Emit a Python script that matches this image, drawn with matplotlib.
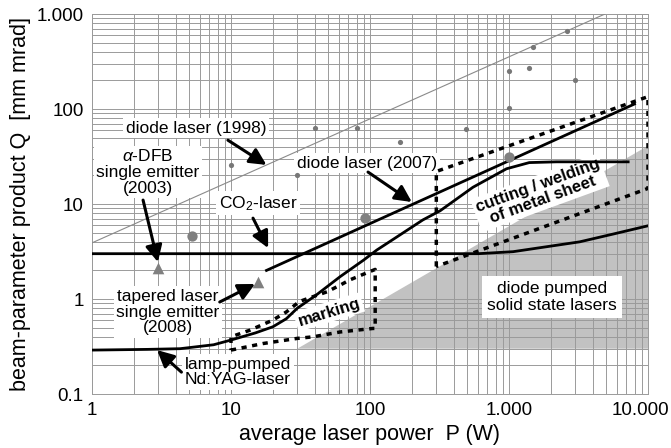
import matplotlib
matplotlib.use("Agg")
import matplotlib.pyplot as plt
import matplotlib.transforms as mtrans
import numpy as np

plt.rcParams['font.family'] = ['Liberation Sans', 'DejaVu Sans']
plt.rcParams['mathtext.fontset'] = 'custom'
plt.rcParams['mathtext.rm'] = 'Liberation Sans'
plt.rcParams['mathtext.it'] = 'Liberation Sans:italic'

# --- data (P in W, Q in mm mrad) ---
diode1998_P = [1, 4900]
diode1998_Q = [3.9, 1000]

diode2007_P = [18, 8000]
diode2007_Q = [2.0, 113]

co2_P = [1, 600, 1070, 1860, 3230, 5620, 10000]
co2_Q = [3.0, 3.0, 3.15, 3.55, 4.0, 4.83, 5.9]

lamp_P = [1, 2.5, 4.3, 7.5, 10, 15, 20, 25, 30, 41, 61, 90, 112, 156, 240,
          320, 550, 960, 1400, 2200, 7200]
lamp_Q = [0.29, 0.295, 0.30, 0.33, 0.37, 0.44, 0.51, 0.62, 0.80, 1.10, 1.72,
          2.57, 3.28, 4.5, 6.8, 8.5, 15, 23.5, 27.3, 27.8, 27.8]

marking_P = [10, 17, 30, 39, 61, 105, 109, 109, 87, 71, 61, 49, 39, 31, 25, 20, 13.7, 10, 10]
marking_Q = [0.29, 0.34, 0.385, 0.40, 0.45, 0.49, 0.49, 2.05, 1.79, 1.58, 1.40, 1.19, 1.06, 0.94, 0.73, 0.60, 0.47, 0.40, 0.29]

cutting_P = [300, 300, 10000, 10000, 300]
cutting_Q = [2.2, 22, 135, 14.6, 2.2]

dpss_P = [30, 10000, 10000]
dpss_Q = [0.3, 41, 0.3]

dots_P = [40, 80, 165, 490, 10, 30, 2600, 1500, 1000, 1400, 3000, 1000]
dots_Q = [63, 63, 45, 62, 26, 20, 670, 450, 250, 270, 200, 103]

bigdots_P = [5.2, 92, 1000]
bigdots_Q = [4.6, 7.1, 31]

tri_P = [3.0, 15.7]
tri_Q = [2.1, 1.5]

xticks = [1, 10, 100, 1000, 10000]
xticklabels = ['1', '10', '100', '1.000', '10.000']
yticks = [0.1, 1, 10, 100, 1000]
yticklabels = ['0.1', '1', '10', '100', '1.000']

fig = plt.figure(figsize=(6.71, 4.48), dpi=100)
ax = fig.add_axes([0.1371, 0.1205, 0.8286, 0.8482])
ax.set_xscale('log')
ax.set_yscale('log')
ax.set_xlim(1, 10000)
ax.set_ylim(0.1, 1000)

# grey region: diode pumped solid state lasers
ax.fill(dpss_P, dpss_Q, color='#c2c2c2', lw=0, zorder=1)

ax.grid(True, which='both', color='#9a9a9a', lw=0.7, zorder=2)
ax.set_axisbelow(False)
for s in ax.spines.values():
    s.set_color('#9a9a9a')
    s.set_linewidth(0.7)
ax.tick_params(which='both', length=0, labelsize=13.5, pad=6)
ax.set_xticks(xticks)
ax.set_xticklabels(xticklabels)
ax.set_yticks(yticks)
ax.set_yticklabels(yticklabels)
ax.minorticks_on()
ax.tick_params(which='minor', length=0)
ax.xaxis.set_minor_formatter(matplotlib.ticker.NullFormatter())
ax.yaxis.set_minor_formatter(matplotlib.ticker.NullFormatter())
# keep "10.000" inside the figure
last = ax.get_xticklabels()[-1]
last.set_transform(last.get_transform() + mtrans.ScaledTranslation(-8 / 100, 0, fig.dpi_scale_trans))

# lines
ax.plot(diode1998_P, diode1998_Q, color='#8a8a8a', lw=0.8, zorder=4)
ax.plot(diode2007_P, diode2007_Q, color='k', lw=2.0, zorder=4)
ax.plot(co2_P, co2_Q, color='k', lw=2.0, zorder=4)
ax.plot(lamp_P, lamp_Q, color='k', lw=2.0, zorder=4)
ax.plot(marking_P, marking_Q, color='k', lw=2.5, ls=(0, (1.5, 1.6)), zorder=4)
ax.plot(cutting_P, cutting_Q, color='k', lw=2.5, ls=(0, (1.5, 1.6)), zorder=4)

# points
ax.scatter(dots_P, dots_Q, s=14, color='#777777', zorder=5, lw=0)
ax.scatter(bigdots_P, bigdots_Q, s=55, color='#808080', zorder=5, lw=0)
ax.scatter(tri_P, tri_Q, s=70, marker='^', color='#808080', zorder=5, lw=0)

box = dict(boxstyle='square,pad=0.15', fc='white', ec='none')
fs = 12.5
arrow = dict(arrowstyle='-|>', color='k', lw=2.2, mutation_scale=25, shrinkA=0, shrinkB=0)

ax.text(5.6, 63, 'diode laser (1998)', ha='center', va='center', fontsize=fs, bbox=box, zorder=3)
ax.annotate('', xy=(18, 25.8), xytext=(9.5, 47), zorder=6, arrowprops=arrow)

ax.text(2.53, 21.7, '$\\alpha$-DFB\nsingle emitter\n(2003)', ha='center', va='center',
        fontsize=fs, bbox=box, zorder=3, linespacing=1.05)
ax.annotate('', xy=(2.98, 2.45), xytext=(2.33, 11.0), zorder=6, arrowprops=arrow)

ax.text(15.6, 10.2, 'CO$_2$-laser', ha='center', va='center', fontsize=fs, bbox=box, zorder=3)
ax.annotate('', xy=(18.5, 3.44), xytext=(14.4, 7.1), zorder=6, arrowprops=arrow)

ax.text(95, 27, 'diode laser (2007)', ha='center', va='center', fontsize=fs, bbox=box, zorder=3)
ax.annotate('', xy=(200, 10.5), xytext=(96.8, 21.7), zorder=6, arrowprops=arrow)

ax.text(3.52, 0.73, 'tapered laser\nsingle emitter\n(2008)', ha='center', va='center',
        fontsize=fs, bbox=box, zorder=3, linespacing=1.05)
ax.annotate('', xy=(14.9, 1.44), xytext=(8.3, 0.93), zorder=6, arrowprops=arrow)

ax.text(11.2, 0.17, 'lamp-pumped\nNd:YAG-laser', ha='center', va='center',
        fontsize=fs, bbox=box, zorder=3, linespacing=1.05)
ax.annotate('', xy=(2.94, 0.29), xytext=(4.4, 0.17), zorder=6, arrowprops=arrow)

ax.text(50.7, 0.73, 'marking', ha='center', va='center', fontsize=12, fontweight='bold',
        rotation=17, bbox=box, zorder=3)
ax.text(1670, 13.1, 'cutting / welding\nof metal sheet', ha='center', va='center', fontsize=12,
        fontweight='bold', rotation=20, bbox=box, zorder=3, linespacing=1.0)
ax.text(2040, 1.05, 'diode pumped\nsolid state lasers', ha='center', va='center', fontsize=fs,
        bbox=dict(boxstyle='square,pad=0.3', fc='white', ec='none'), zorder=3, linespacing=1.1)

ax.set_xlabel('average laser power  P (W)', fontsize=15.5, labelpad=3)
ax.set_ylabel('beam-parameter product Q  [mm mrad]', fontsize=15.5, labelpad=4)

fig.savefig('out.png', dpi=100)
